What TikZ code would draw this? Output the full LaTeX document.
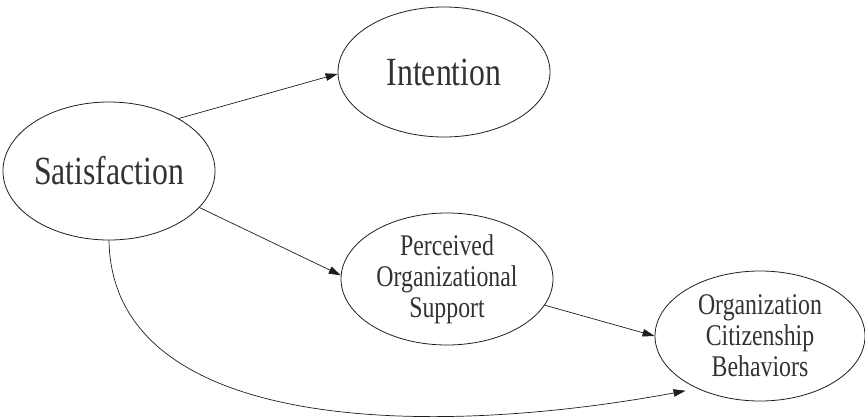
\documentclass[tikz,border=0pt]{standalone}
\usepackage{fontspec}
\setmainfont[FakeStretch=0.794]{Liberation Serif}
\usepackage{tikz}
\usetikzlibrary{arrows.meta,shapes.geometric}
\definecolor{mdedge}{RGB}{30,30,30}
\definecolor{mdtext}{RGB}{50,50,50}
\tikzset{
  construct/.style={
    draw=mdedge, ellipse, line width=0.8pt, align=center,
    inner sep=0pt, text=mdtext
  },
  bigtxt/.style={construct, font=\fontsize{40}{42}\selectfont},
  smalltxt/.style={construct, font=\fontsize{30}{31}\selectfont},
  arr/.style={-{Triangle[length=12pt,width=7.5pt]}, draw=mdedge, line width=0.7pt}
}
\begin{document}
\begin{tikzpicture}[x=1pt,y=-1pt]
  \useasboundingbox (0,0) rectangle (865,416);
  \node[bigtxt, minimum width=204pt, minimum height=138pt] (sat) at (109,171) {Satisfaction};
  \node[bigtxt, minimum width=212pt, minimum height=130pt] (int) at (444,72) {Intention};
  \node[smalltxt, minimum width=212pt, minimum height=132pt] (pos) at (447,279)
    {Perceived\\Organizational\\Support};
  \node[smalltxt, minimum width=210pt, minimum height=130pt] (ocb) at (760,336)
    {Organization\\Citizenship\\Behaviors};
  \draw[arr] (sat.37) -- (int.181);
  \draw[arr] (sat.-22) -- (pos.178);
  \draw[arr] (pos.-15) -- (ocb.west);
  \draw[arr, shorten >=12pt] (sat.south) .. controls (112,430) and (420,440) .. (ocb.-140);
\end{tikzpicture}
\end{document}
